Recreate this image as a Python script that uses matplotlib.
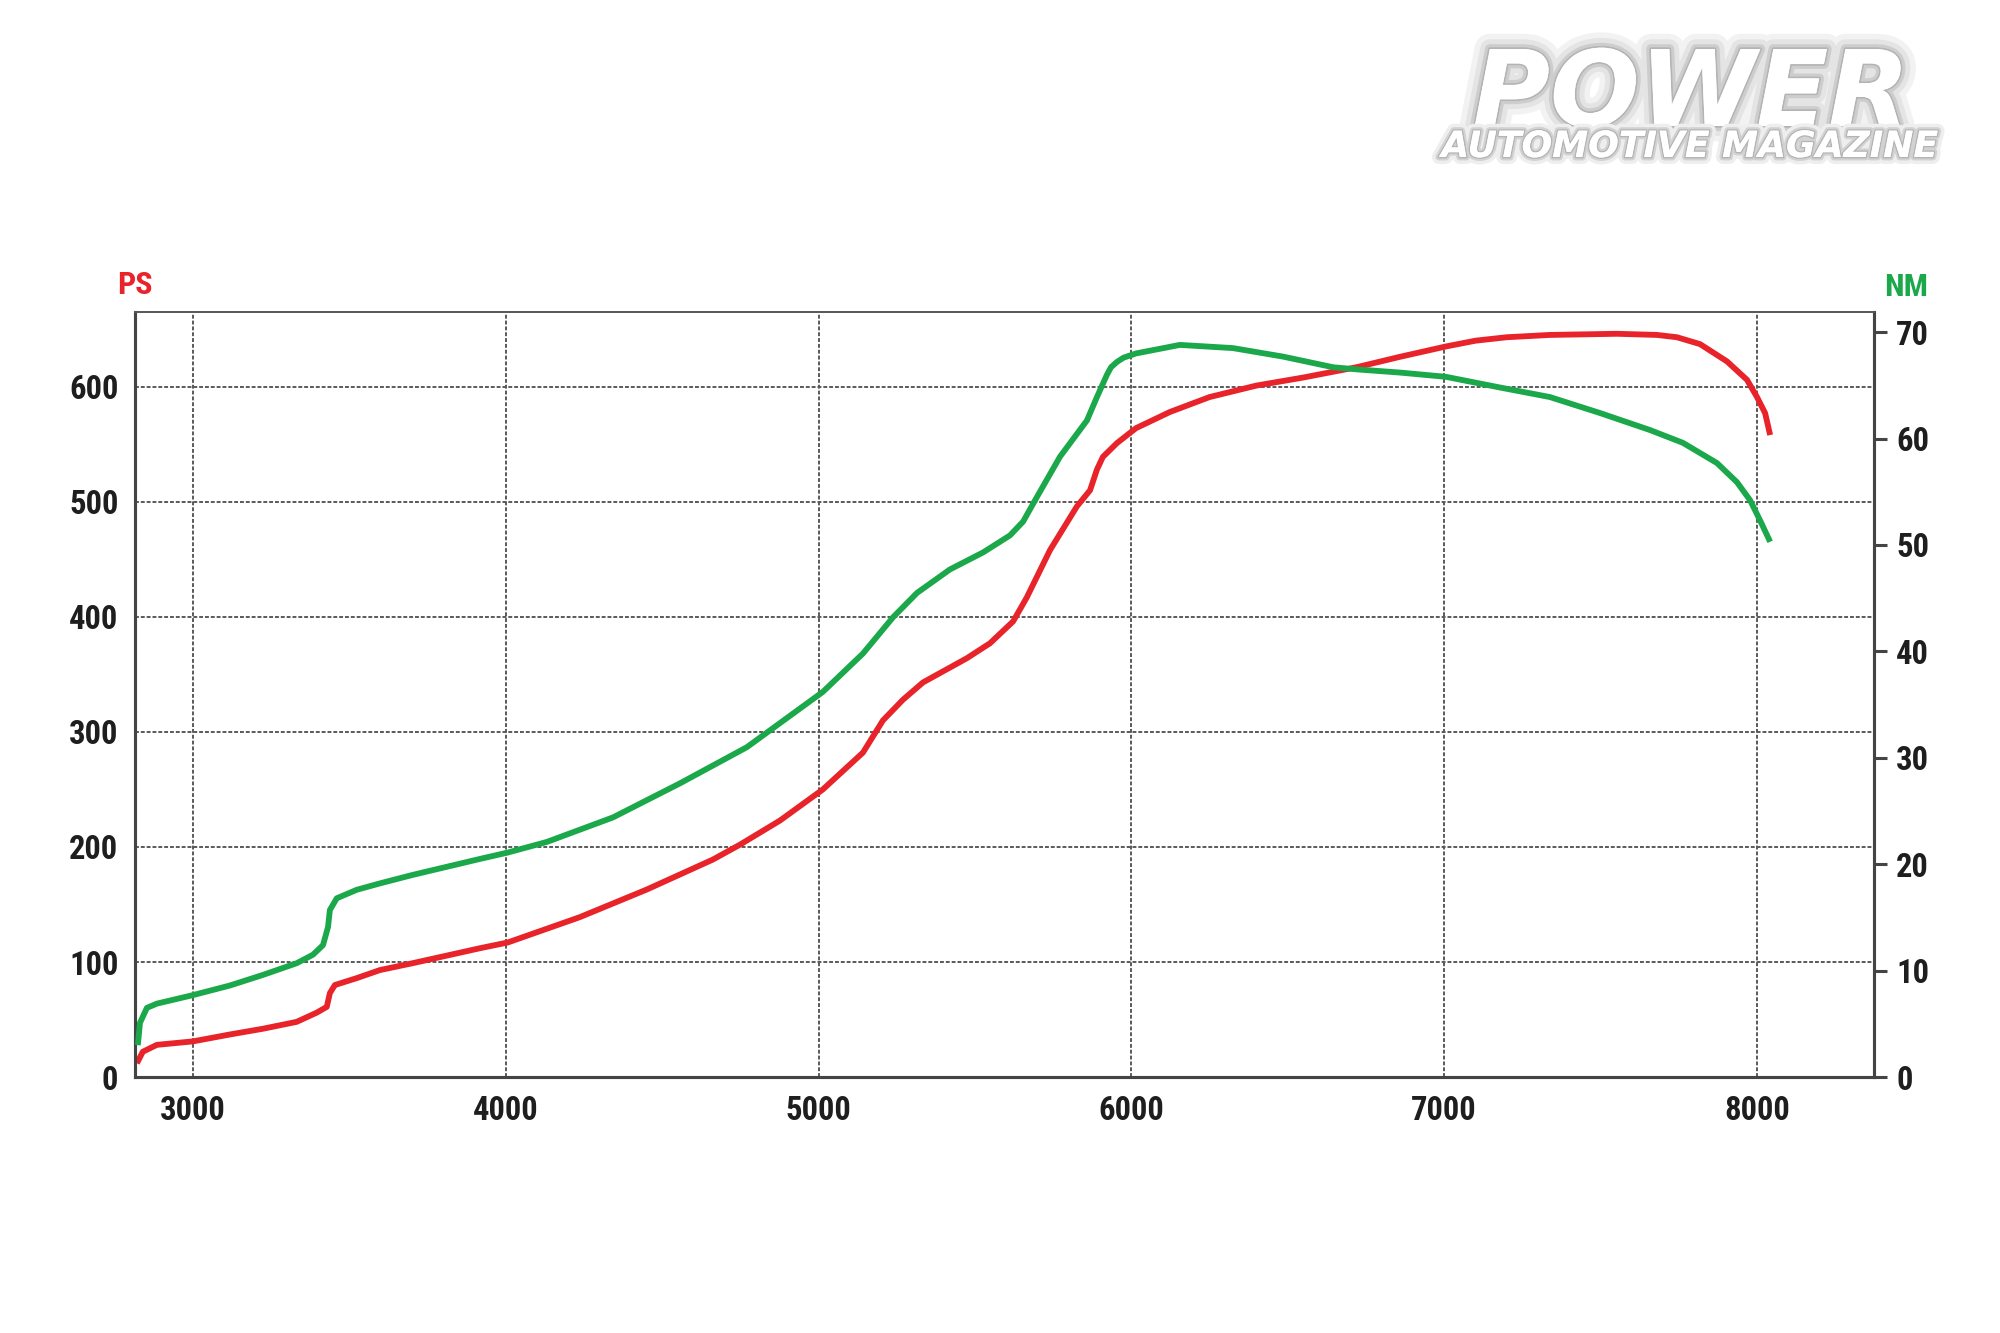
import matplotlib.pyplot as plt
import matplotlib.patheffects as pe

# dyno sheet: power (PS, left axis) and torque (NM, right axis) vs rpm
ps_rpm = [2821, 2840, 2885, 3000, 3118, 3224, 3332, 3396, 3428, 3438, 3454, 3524,
          3598, 3703, 3918, 4007, 4237, 4451, 4662, 4749, 4877, 5014, 5142, 5206,
          5270, 5334, 5474, 5548, 5622, 5666, 5740, 5826, 5868, 5890, 5909, 5954,
          6015, 6123, 6250, 6400, 6550, 6721, 6859, 7006, 7100, 7200, 7338, 7552,
          7680, 7744, 7818, 7904, 7968, 8000, 8026, 8042]
ps_vals = [12, 22, 28, 31, 37, 42, 48, 56, 61, 73, 80, 86,
           93, 99, 112, 117, 139, 163, 189, 202, 223, 250, 282, 310,
           328, 343, 364, 377, 396, 417, 458, 496, 510, 528, 539, 551,
           564, 578, 591, 601, 608, 617, 626, 635, 640, 643, 645, 646,
           645, 643, 637, 622, 606, 591, 577, 558]

nm_rpm = [2824, 2831, 2853, 2885, 3000, 3118, 3224, 3332, 3384, 3416, 3432, 3438,
          3460, 3524, 3598, 3703, 3918, 4007, 4132, 4343, 4557, 4771, 5014, 5142,
          5238, 5315, 5420, 5526, 5612, 5654, 5698, 5772, 5858, 5890, 5922, 5935,
          5954, 5975, 6015, 6155, 6325, 6485, 6645, 6721, 6859, 7006, 7092, 7178,
          7338, 7498, 7658, 7763, 7872, 7936, 7978, 8010, 8042]
nm_vals = [3.0, 5.1, 6.5, 6.9, 7.7, 8.6, 9.6, 10.7, 11.5, 12.4, 14.1, 15.7,
           16.8, 17.6, 18.2, 19.0, 20.5, 21.1, 22.1, 24.4, 27.6, 31.0, 36.2, 39.8,
           43.2, 45.5, 47.7, 49.3, 50.9, 52.2, 54.5, 58.3, 61.7, 63.9, 66.0, 66.7,
           67.2, 67.6, 68.0, 68.8, 68.5, 67.7, 66.7, 66.5, 66.2, 65.8, 65.3, 64.8,
           63.9, 62.4, 60.8, 59.6, 57.7, 55.9, 54.2, 52.3, 50.3]

rpm_ticks = [3000, 4000, 5000, 6000, 7000, 8000]
ps_ticks = [0, 100, 200, 300, 400, 500, 600]
nm_ticks = [0, 10, 20, 30, 40, 50, 60, 70]

RED = '#e8232a'
GREEN = '#1aa84a'
INK = '#1e1e1e'
AXIS = '#444444'
GRID = '#5a5a5a'
FONT = ['Roboto Condensed', 'Roboto', 'DejaVu Sans']

fig = plt.figure(figsize=(20, 13.33), dpi=100)
ax = fig.add_axes([0.0675, 0.192, 0.8695, 0.574])
ax2 = ax.twinx()

ax.set_xlim(2815, 8374)
ax.set_ylim(0, 665)
ax2.set_ylim(0, 71.9)

# grid
for r in rpm_ticks:
    ax.axvline(r, color=GRID, lw=1.4, ls=(0, (2, 1)), zorder=1)
for p in ps_ticks[1:]:
    ax.axhline(p, color=GRID, lw=1.4, ls=(0, (2, 1)), zorder=1)

ax.plot(ps_rpm, ps_vals, color=RED, lw=4.2, solid_capstyle='butt',
        solid_joinstyle='round', zorder=3)
ax2.plot(nm_rpm, nm_vals, color=GREEN, lw=4.2, solid_capstyle='butt',
         solid_joinstyle='round', zorder=3)

for a in (ax, ax2):
    for s in a.spines.values():
        s.set_color(AXIS)
        s.set_linewidth(2.2)
    a.spines['top'].set_linestyle((0, (2, 1)))
    a.spines['top'].set_linewidth(1.4)
    a.spines['top'].set_color(GRID)

ax.set_xticks(rpm_ticks)
ax.set_xticklabels([str(r) for r in rpm_ticks])
ax.set_yticks(ps_ticks)
ax.set_yticklabels([str(p) for p in ps_ticks])
ax2.set_yticks(nm_ticks)
ax2.set_yticklabels([str(n) for n in nm_ticks])

ax.tick_params(axis='x', length=0, pad=13)
ax.tick_params(axis='y', length=0, pad=12)
ax2.tick_params(axis='y', length=9, width=2.2, color=AXIS, pad=7, direction='out')

for lbl in ax.get_xticklabels() + ax.get_yticklabels() + ax2.get_yticklabels():
    lbl.set_family(FONT)
    lbl.set_fontweight('bold')
    lbl.set_fontsize(23.5)
    lbl.set_color(INK)

fig.text(135 / 2000, 1 - 285 / 1333, 'PS', color=RED, fontsize=23, fontweight='bold',
         family=FONT, ha='center', va='center')
fig.text(1906 / 2000, 1 - 287 / 1333, 'NM', color=GREEN, fontsize=23, fontweight='bold',
         family=FONT, ha='center', va='center')

# masthead logo
glow = [pe.withStroke(linewidth=22, foreground='#f2f2f2'),
        pe.withStroke(linewidth=14, foreground='#e4e4e4'),
        pe.withStroke(linewidth=7, foreground='#cdcdcd'),
        pe.withStroke(linewidth=2.5, foreground='#b4b4b4'),
        pe.Normal()]
fig.text(1691 / 2000, 1 - 126 / 1333, 'POWER', color='white', fontsize=76,
         fontweight='bold', fontstyle='italic', family='DejaVu Sans',
         ha='center', va='baseline', path_effects=glow)
glow2 = [pe.withStroke(linewidth=10, foreground='#eeeeee'),
         pe.withStroke(linewidth=5, foreground='#d2d2d2'),
         pe.withStroke(linewidth=2, foreground='#b4b4b4'),
         pe.Normal()]
fig.text(1690 / 2000, 1 - 157 / 1333, 'AUTOMOTIVE MAGAZINE', color='white', fontsize=26,
         fontweight='bold', fontstyle='italic', family='DejaVu Sans',
         ha='center', va='baseline', path_effects=glow2)

fig.savefig('out.png', dpi=100, facecolor='white')
